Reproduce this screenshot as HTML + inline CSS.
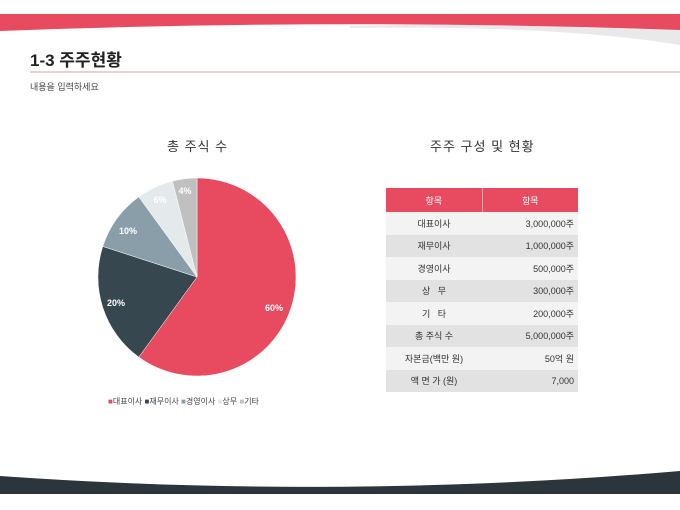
<!DOCTYPE html>
<html><head><meta charset="utf-8"><style>
body{margin:0;width:680px;height:510px;position:relative;background:#fff;font-family:"Liberation Sans","Noto Sans CJK KR",sans-serif;overflow:hidden}
.t{position:absolute;white-space:nowrap}
table{position:absolute;left:386px;top:188px;width:192px;border-collapse:collapse;font-size:9px;color:#333;table-layout:fixed}
td{height:22.5px;padding:0 4px}
th{height:22px;background:#e84a5f;color:#fff;font-weight:normal;font-size:9px}
</style></head><body>
<svg width="680" height="510" style="position:absolute;left:0;top:0">
<path d="M350 28 Q560 25 680 45 L680 25 Q520 22 350 26Z" fill="#e9e9ec"/>
<path d="M0 14 L680 14 L680 30 Q340 18 0 31Z" fill="#e84a5f"/>
<line x1="30" y1="72" x2="680" y2="72" stroke="#d9a0a6" stroke-width="1"/>
<path d="M0 476 Q340 500 680 471 L680 494 L0 494Z" fill="#2d353c"/>
<g stroke="#fff" stroke-width="0.5">
<path d="M197 277 L197 178 A99 99 0 1 1 138.8 357.1Z" fill="#e84a5f"/>
<path d="M197 277 L138.8 357.1 A99 99 0 0 1 102.8 246.4Z" fill="#37474f"/>
<path d="M197 277 L102.8 246.4 A99 99 0 0 1 138.8 196.9Z" fill="#8a9ea9"/>
<path d="M197 277 L138.8 196.9 A99 99 0 0 1 172.4 181.1Z" fill="#e4e9eb"/>
<path d="M197 277 L172.4 181.1 A99 99 0 0 1 197 178Z" fill="#c0c0c0"/>
</g>
<g font-size="9" font-weight="bold" fill="#fff" text-anchor="middle" font-family="Liberation Sans,sans-serif">
<text x="274" y="311">60%</text><text x="116" y="306">20%</text><text x="128" y="234">10%</text><text x="160" y="203">6%</text><text x="185" y="194">4%</text>
</g>
</svg>
<div class="t" style="left:30px;top:46px;font-size:17px;font-weight:bold;color:#222">1-3 주주현황</div>
<div class="t" style="left:30px;top:80px;font-size:9px;color:#444">내용을 입력하세요</div>
<div class="t" style="left:167px;top:136px;font-size:13px;color:#333;letter-spacing:1px">총 주식 수</div>
<div class="t" style="left:430px;top:136px;font-size:13px;color:#333;letter-spacing:1px">주주 구성 및 현황</div>
<div class="t" style="left:108px;top:396px;font-size:8px;color:#444">
<span style="color:#e84a5f">■</span>대표이사 <span style="color:#37474f">■</span>재무이사 <span style="color:#8a9ea9">■</span>경영이사 <span style="color:#e4e9eb">■</span>상무 <span style="color:#c0c0c0">■</span>기타</div>
<table>
<colgroup><col style="width:96px"><col style="width:96px"></colgroup>
<tr><th style="border-right:1px solid #f5a0aa">항목</th><th>항목</th></tr>
<tr style="background:#f3f3f3"><td align="center">대표이사</td><td align="right">3,000,000주</td></tr>
<tr style="background:#e2e2e2"><td align="center">재무이사</td><td align="right">1,000,000주</td></tr>
<tr style="background:#f3f3f3"><td align="center">경영이사</td><td align="right">500,000주</td></tr>
<tr style="background:#e2e2e2"><td align="center">상 &nbsp; 무</td><td align="right">300,000주</td></tr>
<tr style="background:#f3f3f3"><td align="center">기 &nbsp; 타</td><td align="right">200,000주</td></tr>
<tr style="background:#e2e2e2"><td align="center">총 주식 수</td><td align="right">5,000,000주</td></tr>
<tr style="background:#f3f3f3"><td align="center">자본금(백만 원)</td><td align="right">50억 원</td></tr>
<tr style="background:#e2e2e2"><td align="center">액 면 가 (원)</td><td align="right">7,000</td></tr>
</table>
</body></html>
